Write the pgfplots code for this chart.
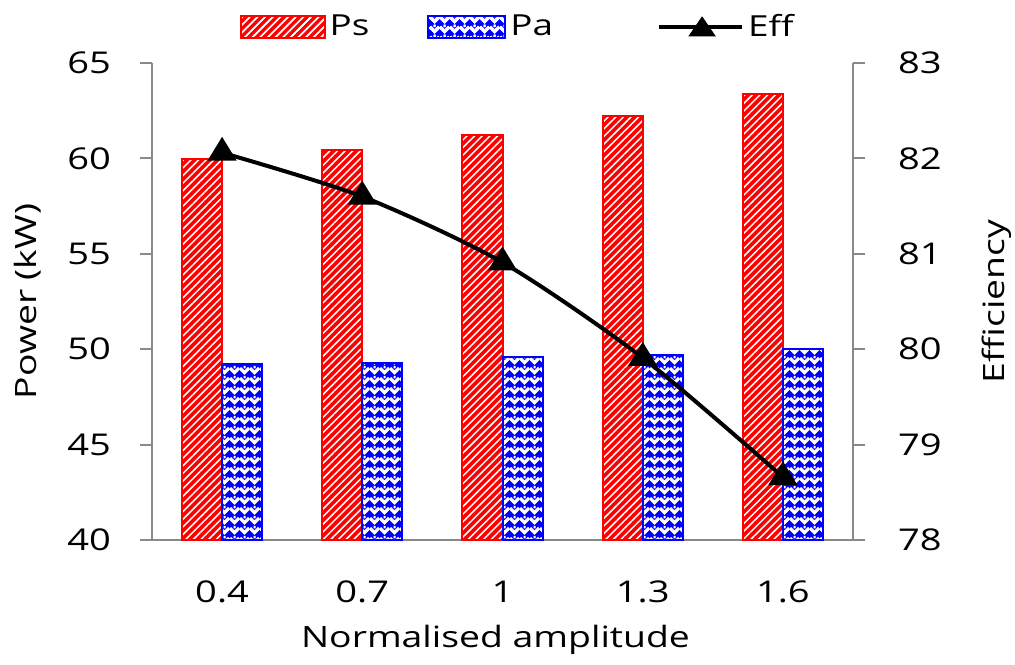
\documentclass[border=0pt]{standalone}
\usepackage{fontspec}
\setmainfont{Open Sans}[FakeStretch=1.27]
\usepackage{pgfplots}
\usepackage{pgfplotstable}
\pgfplotsset{compat=1.18}
\usetikzlibrary{patterns.meta}

\definecolor{axisgray}{RGB}{137,137,137}
\definecolor{psred}{RGB}{255,0,0}
\definecolor{pablue}{RGB}{0,0,255}

% white chevron weave laid over the blue fill
\pgfdeclarepattern{
  name=weave,
  type=uncolored,
  bottom left={\pgfpoint{0pt}{0pt}},
  top right={\pgfpoint{5pt}{5pt}},
  tile size={\pgfpoint{5pt}{5pt}},
  code={
    \pgfsetlinewidth{1.7pt}
    \pgfpathmoveto{\pgfpoint{0pt}{3.8pt}}
    \pgfpathlineto{\pgfpoint{2.5pt}{1.3pt}}
    \pgfpathlineto{\pgfpoint{5pt}{3.8pt}}
    \pgfusepath{stroke}
    \pgfsetlinewidth{1.1pt}
    \pgfpathmoveto{\pgfpoint{2.5pt}{5pt}}
    \pgfpathlineto{\pgfpoint{2.5pt}{3.6pt}}
    \pgfusepath{stroke}
  }
}

\pgfplotstableread{
x  ps     pa    eff
0  59.95  49.2  82.06
1  60.45  49.3  81.60
2  61.25  49.6  80.91
3  62.20  49.7  79.91
4  63.40  50.0  78.66
}\datatable

\tikzset{
  psstyle/.style={draw=psred, line width=1pt, fill=psred,
    postaction={pattern={Lines[angle=45, distance=2.7pt, line width=0.75pt]}, pattern color=white}},
  pastyle/.style={draw=pablue, line width=1pt, fill=pablue,
    postaction={pattern=weave, pattern color=white}},
}

\begin{document}
\begin{tikzpicture}
\path[use as bounding box] (-76pt,-62pt) rectangle (431.5pt,270pt);

\begin{axis}[
  at={(0,0)}, anchor=south west,
  scale only axis, width=350.5pt, height=238.5pt,
  xmin=-0.5, xmax=4.5, ymin=40, ymax=65,
  axis y line*=left, axis x line*=bottom,
  axis line style={axisgray, line width=1pt},
  ytick={40,45,...,65},
  xtick={0,...,4}, xticklabels={0.4,0.7,1,1.3,1.6},
  x tick style={draw=none},
  y tick style={axisgray, line width=1pt},
  tick align=outside, major tick length=6pt,
  /pgf/number format/assume math mode=true,
  tick label style={font=\fontsize{15}{18}\selectfont, black},
  yticklabel style={xshift=-11pt},
  xticklabel style={yshift=-11pt},
  ylabel={Power (kW)},
  xlabel={Normalised amplitude},
  label style={font=\fontsize{14.7}{18}\selectfont},
  ylabel style={at={(axis description cs:-0.178,0.5)}, anchor=center},
  xlabel style={at={(axis description cs:0.49,-0.21)}, anchor=center},
  ybar, bar width=20pt,
  legend columns=3,
  legend style={draw=none, fill=none, at={(0.523,1.0755)}, anchor=center,
    font=\fontsize{14.5}{18}\selectfont,
    /tikz/column 1/.style={column sep=0pt},
    /tikz/column 2/.style={column sep=27pt},
    /tikz/column 3/.style={column sep=0pt},
    /tikz/column 4/.style={column sep=50pt},
    /tikz/column 5/.style={column sep=0pt}},
  legend cell align=left,
]
\addplot[psstyle, bar shift=-10pt,
  legend image code/.code={\draw[psstyle] (0pt,-5.5pt) rectangle (42pt,5.5pt);}]
  table[x=x, y=ps] {\datatable};
\addlegendentry{Ps}
\addplot[pastyle, bar shift=10pt,
  legend image code/.code={\draw[pastyle] (0pt,-5.5pt) rectangle (38.5pt,5.5pt);}]
  table[x=x, y=pa] {\datatable};
\addlegendentry{Pa}
\addlegendimage{legend image code/.code={
  \draw[black, line width=2pt] (0pt,0pt) -- (41.5pt,0pt);
  \fill[black] (15pt,-4.5pt) -- (28pt,-4.5pt) -- (21.5pt,5pt) -- cycle;}}
\addlegendentry{Eff}
\end{axis}

\begin{axis}[
  at={(0,0)}, anchor=south west,
  scale only axis, width=350.5pt, height=238.5pt,
  xmin=-0.5, xmax=4.5, ymin=78, ymax=83,
  axis y line*=right, axis x line=none,
  axis line style={axisgray, line width=1pt},
  ytick={78,79,...,83},
  y tick style={axisgray, line width=1pt},
  tick align=outside, major tick length=6pt,
  /pgf/number format/assume math mode=true,
  tick label style={font=\fontsize{15}{18}\selectfont, black},
  yticklabel style={xshift=13pt},
  ylabel={Efficiency},
  label style={font=\fontsize{14.7}{18}\selectfont},
  ylabel style={at={(axis description cs:1.205,0.5)}, anchor=center},
]
\addplot[black, line width=2pt, smooth, tension=0.45,
  mark=triangle*, mark size=5pt, mark options={xscale=1.27, yscale=1.2}]
  table[x=x, y=eff] {\datatable};
\end{axis}
\end{tikzpicture}
\end{document}
